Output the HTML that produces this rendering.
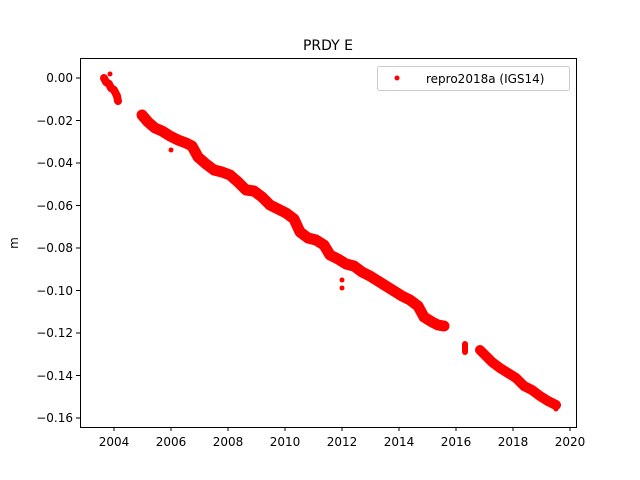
<!DOCTYPE html>
<html><head><style>body{margin:0;background:#fff}svg{display:block}text{font-family:"DejaVu Sans","Liberation Sans",sans-serif;fill:#000}</style></head>
<body>
<svg width="640" height="480" viewBox="0 0 640 480">
<rect width="640" height="480" fill="#fff"/>
<g fill="none" stroke="#f00" stroke-linejoin="round" stroke-linecap="round">
<polyline stroke-width="8" points="104,78 106,82 109,84 111,88 114,90 117,96 118,101"/>
<polyline stroke-width="11" points="142,115 148,122 155,128 162,131 170,136 178,140 186,143 192,146 198,157 206,164 214,170 222,172 230,175 238,182 246,190 254,191 262,197 270,205 278,209 286,213 294,219 300,232 308,238 316,240 324,245 330,255 338,259 346,264 354,266 362,272 370,276 378,281 386,286 394,291 402,296 410,300 418,306 424,317 432,322 438,325 444,326"/>
<polyline stroke-width="6" points="465,344 465,352"/>
<polyline stroke-width="10" points="480,350 486,356 492,362 500,368 508,373 516,378 524,386 532,390 540,396 548,401 556,405"/>
</g>
<g fill="#f00"><circle cx="171" cy="150" r="2.5"/><circle cx="342" cy="280" r="2.5"/><circle cx="342" cy="288" r="2.5"/><circle cx="479" cy="348" r="2.5"/><circle cx="556" cy="409" r="2.5"/><circle cx="110" cy="74" r="2.5"/></g>
<rect x="80.5" y="58.5" width="496" height="369" fill="none" stroke="#000" stroke-width="1"/>
<g stroke="#000" stroke-width="1">
<line x1="114" y1="427" x2="114" y2="431"/><line x1="171" y1="427" x2="171" y2="431"/><line x1="228" y1="427" x2="228" y2="431"/><line x1="285" y1="427" x2="285" y2="431"/><line x1="342" y1="427" x2="342" y2="431"/><line x1="399" y1="427" x2="399" y2="431"/><line x1="456" y1="427" x2="456" y2="431"/><line x1="513" y1="427" x2="513" y2="431"/><line x1="570" y1="427" x2="570" y2="431"/>
<line x1="76" y1="78" x2="80" y2="78"/><line x1="76" y1="120.5" x2="80" y2="120.5"/><line x1="76" y1="163" x2="80" y2="163"/><line x1="76" y1="205.5" x2="80" y2="205.5"/><line x1="76" y1="248" x2="80" y2="248"/><line x1="76" y1="290.5" x2="80" y2="290.5"/><line x1="76" y1="333" x2="80" y2="333"/><line x1="76" y1="375.5" x2="80" y2="375.5"/><line x1="76" y1="418" x2="80" y2="418"/>
</g>
<g font-size="12" text-anchor="middle">
<text x="114" y="446">2004</text><text x="171" y="446">2006</text><text x="228" y="446">2008</text><text x="285" y="446">2010</text><text x="342" y="446">2012</text><text x="399" y="446">2014</text><text x="456" y="446">2016</text><text x="513" y="446">2018</text><text x="570" y="446">2020</text>
</g>
<g font-size="12" text-anchor="end">
<text x="73" y="82">0.00</text><text x="73" y="125">−0.02</text><text x="73" y="167">−0.04</text><text x="73" y="210">−0.06</text><text x="73" y="252">−0.08</text><text x="73" y="295">−0.10</text><text x="73" y="337">−0.12</text><text x="73" y="380">−0.14</text><text x="73" y="422">−0.16</text>
</g>
<text x="328" y="50" font-size="14" text-anchor="middle">PRDY E</text>
<text x="18" y="243" font-size="12" text-anchor="middle" transform="rotate(-90 18 243)">m</text>
<rect x="377.5" y="66.5" width="192" height="24" rx="2" fill="#fff" stroke="#ccc"/>
<circle cx="397" cy="78" r="2.5" fill="#f00"/>
<text x="426" y="83" font-size="12">repro2018a (IGS14)</text>
</svg>
</body></html>
